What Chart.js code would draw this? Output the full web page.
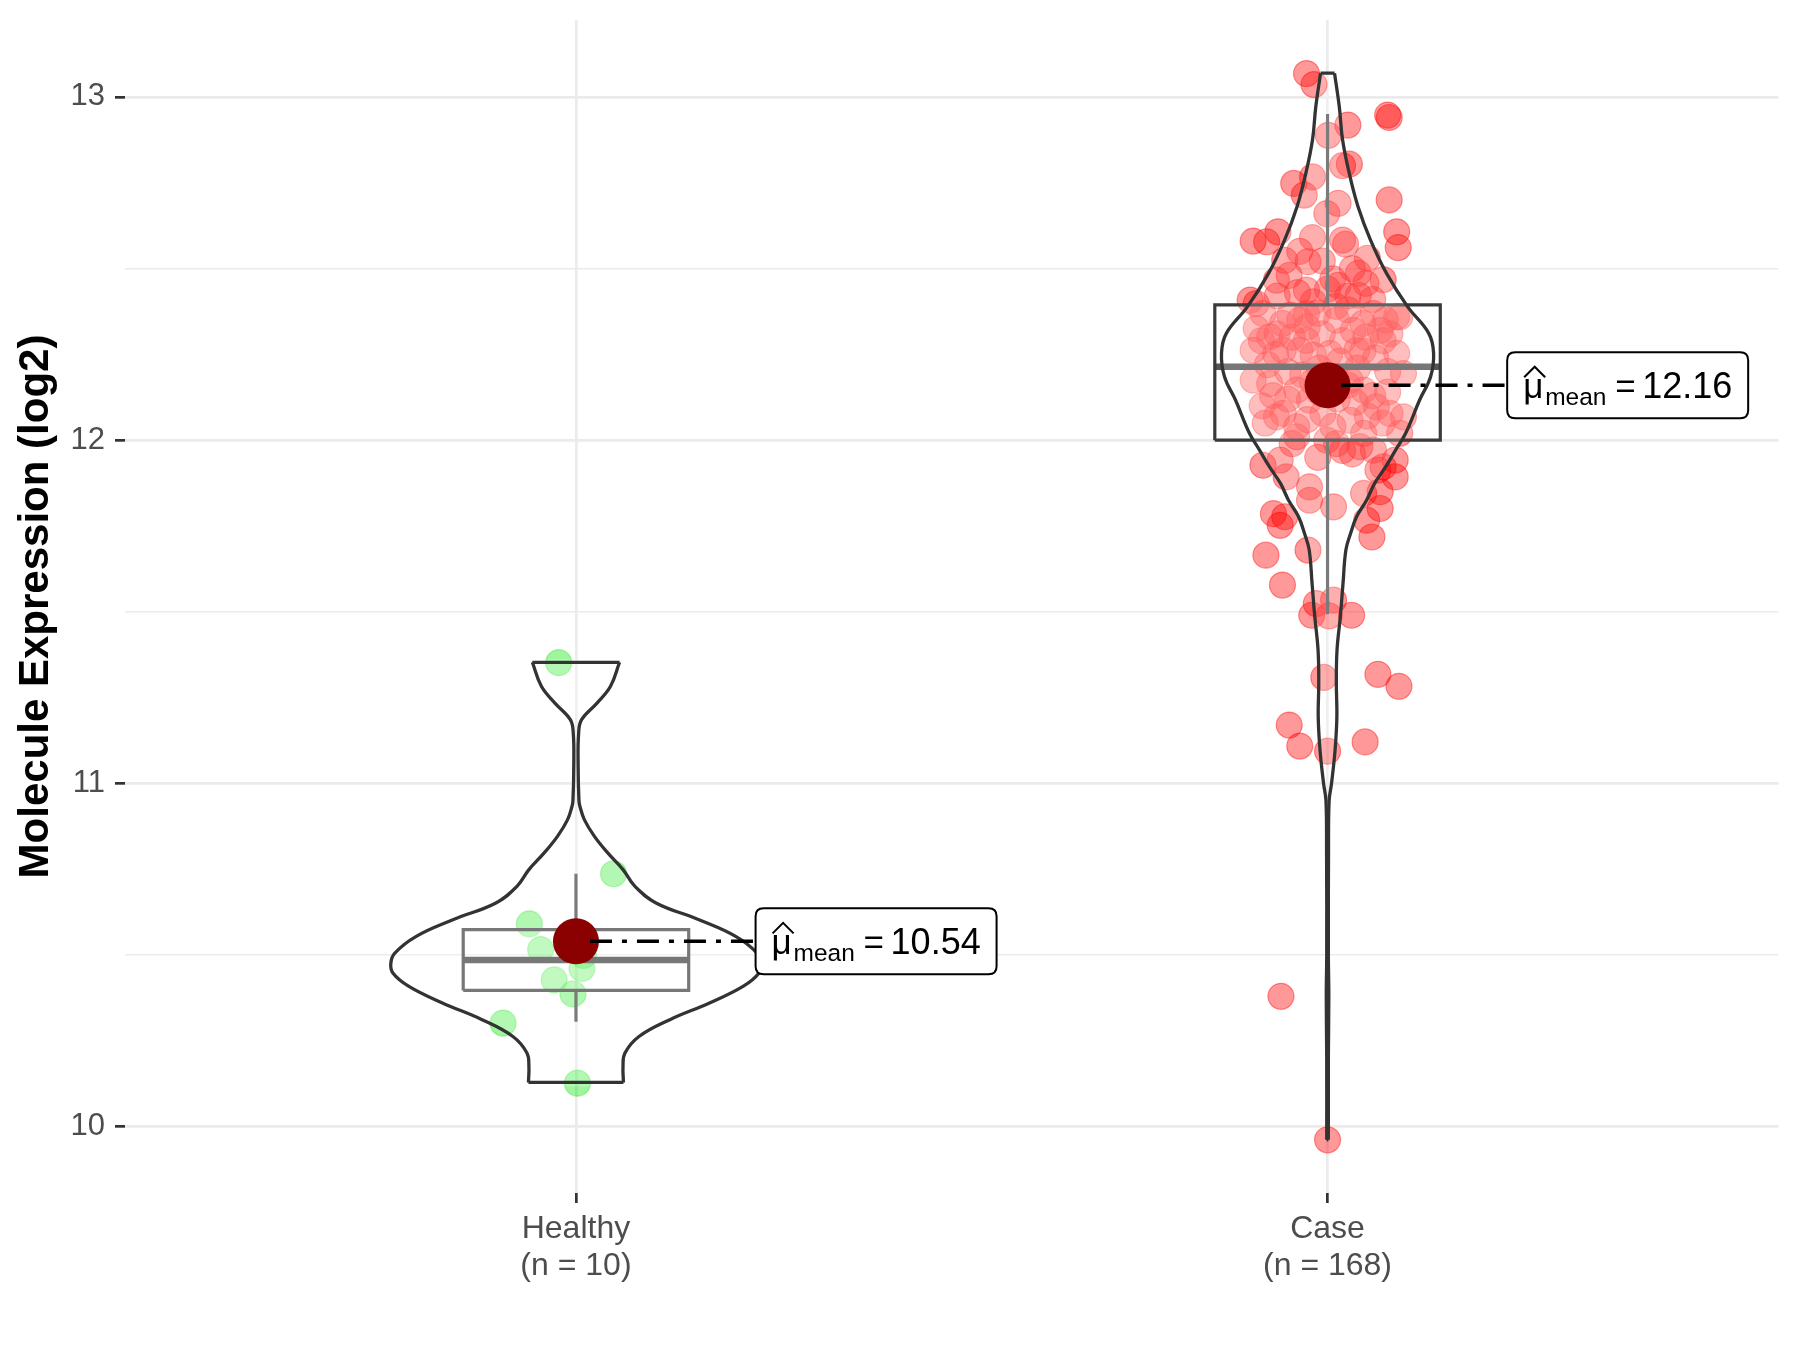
<!DOCTYPE html>
<html>
<head>
<meta charset="utf-8">
<script src="https://cdn.jsdelivr.net/npm/chart.js@4"></script>
<style>
html,body{margin:0;padding:0;background:#ffffff;}
#wrap{width:1800px;height:1350px;position:relative;}
</style>
</head>
<body>
<div id="wrap"><canvas id="c" width="1800" height="1350"></canvas></div>
<script>
// ---------------- DATA ----------------
const categories = ['Healthy', 'Case'];
const categoryCounts = [10, 168];
const categoryPositions = [1, 2];
const yTicks = [10, 10.5, 11, 11.5, 12, 12.5, 13];
const yAxisTitle = 'Molecule Expression (log2)';

const groupMeans = [10.54, 12.16];
const meanLabels = ['10.54', '12.16'];

// box statistics
const boxQ1 = [10.397, 12.0];
const boxMedian = [10.486, 12.214];
const boxQ3 = [10.574, 12.394];
const whiskerLow = [10.306, 11.493];
const whiskerHigh = [10.737, 12.95];

// Healthy points (value, horizontal jitter in category units)
const healthyValues = [11.352, 10.737, 10.591, 10.516, 10.461, 10.428, 10.387, 10.302, 10.127, 10.499];
const healthyJitter = [-0.023, 0.050, -0.062, -0.047, 0.008, -0.029, -0.004, -0.097, 0.002, 0.010];

// Case points
const caseValues = [
  13.068,13.036,12.947,12.94,12.918,12.888,12.80,12.804,12.748,12.767,12.714,12.69,12.66,12.70,12.607,12.561,12.58,12.578,12.607,12.59,12.583,12.571,12.524,12.52,12.522,12.466,12.437,12.451,12.486,12.457,12.468,12.422,12.403,12.398,12.359,
  12.408,12.369,12.364,12.369,12.35,12.32,12.369,12.32,12.36,12.325,12.301,12.262,12.262,12.262,12.248,12.253,12.262,12.29,12.253,12.194,12.175,12.165,12.146,12.117,12.175,12.146,12.097,12.078,12.068,12.078,12.039,12.078,12.058,12.02,12.02,12.0,12.01,12.068,12.156,12.291,
  11.927,11.942,11.893,11.864,11.806,11.825,11.786,11.777,11.752,11.68,11.665,11.578,11.942,11.922,11.893,11.913,11.845,11.85,11.801,11.767,11.718,11.99,11.981,11.971,
  11.524,11.534,11.49,11.488,11.49,11.309,11.318,11.283,11.17,11.109,11.094,11.121,
  10.38,9.962,
  12.22,12.20,12.19,12.21,12.23,12.21,12.24,12.20,
  12.29,12.31,12.30,12.31,12.29,12.30,12.31,
  12.34,12.35,12.37,12.38,12.34,12.35,
  12.13,12.12,12.14,12.12,12.11,12.13,12.14,
  12.05,12.06,12.04,12.07,12.05,
  11.99,11.97,11.96,11.95,
  12.43,12.44,12.42,12.41,12.42,
  12.48,12.47,12.50,12.55,12.53,
  12.17,12.18,12.16,12.25,12.26,12.33,12.39,12.10
];
const caseJitter = [
  -0.028,-0.018,0.080,0.082,0.027,0.001,0.020,0.029,-0.045,-0.020,-0.031,0.014,-0.001,0.082,0.092,0.094,-0.099,-0.081,-0.066,-0.020,0.020,0.024,-0.057,-0.026,-0.007,-0.068,-0.028,0.014,0.041,0.051,0.074,0.041,-0.019,-0.095,0.096,
  -0.103,-0.086,-0.050,-0.028,0.012,0.034,0.061,0.070,0.092,-0.095,-0.077,-0.099,-0.059,-0.037,-0.019,0.003,0.039,0.074,0.092,0.101,-0.099,-0.077,-0.041,-0.024,0.030,0.048,0.065,0.083,0.101,-0.059,-0.041,-0.006,0.030,0.048,0.096,-0.001,-0.041,-0.068,0.012,-0.028,
  -0.086,-0.063,-0.055,-0.024,0.008,-0.024,-0.072,-0.057,-0.063,-0.026,-0.082,-0.060,0.090,0.074,0.090,0.067,0.048,0.070,0.070,0.052,0.059,0.012,0.043,0.061,
  -0.015,0.008,-0.021,0.002,0.032,-0.005,0.067,0.095,-0.051,-0.037,0.000,0.050,
  -0.062,0.000,
  -0.080,-0.053,-0.033,-0.011,0.016,0.040,0.064,0.080,
  -0.088,-0.067,-0.047,-0.007,0.020,0.051,0.083,
  -0.060,-0.037,-0.013,0.027,0.047,0.077,
  -0.073,-0.053,-0.011,0.013,0.037,0.060,0.080,
  -0.083,-0.027,0.007,0.053,0.073,
  -0.047,0.020,0.033,-0.013,
  -0.040,0.000,0.027,0.060,-0.067,
  -0.051,0.007,0.033,-0.037,0.053,
  -0.020,0.007,0.027,-0.069,0.047,-0.027,0.011,-0.087
];

// Violin density profiles: y level and half-width (category units), top to bottom
const healthyViolinY = [11.353,11.283,11.234,11.186,11.147,11.05,10.95,10.933,10.894,10.846,10.797,10.749,10.70,10.652,10.603,10.554,10.506,10.477,10.448,10.409,10.36,10.312,10.263,10.215,10.176,10.129];
const healthyViolinW = [0.058,0.046,0.028,0.0075,0.0036,0.0029,0.004,0.0053,0.0113,0.0246,0.0426,0.0626,0.0785,0.1065,0.1637,0.213,0.241,0.2463,0.2436,0.2223,0.177,0.125,0.0839,0.0652,0.0626,0.0632];
const caseViolinY = [13.069,12.972,12.875,12.78,12.68,12.583,12.486,12.389,12.312,12.253,12.185,12.117,12.02,11.971,11.922,11.874,11.825,11.777,11.728,11.68,11.583,11.486,11.388,11.291,11.194,11.097,11.0,10.95,10.8,10.5,10.38,10.2,9.962];
const caseViolinW = [0.0093,0.0156,0.020,0.0286,0.0406,0.0572,0.0785,0.1065,0.1345,0.1411,0.1371,0.1225,0.1039,0.0905,0.0772,0.0626,0.0519,0.0386,0.0306,0.0244,0.0206,0.017,0.0126,0.0117,0.0124,0.010,0.0053,0.0021,0.0013,0.0011,0.0017,0.0011,0.0011];

// ---------------- BUILD ----------------
const FONT = "'Liberation Sans', Arial, Helvetica, sans-serif";
const BOX_HALF = 0.15;
const OUTLINE = '#333333';

function pts(vals, jit, c) { return vals.map((v, i) => ({x: c + jit[i], y: v})); }
function lineDs(data, color, width, order, tension) {
  return {type: 'line', data, showLine: true, borderColor: color, borderWidth: width,
    pointRadius: 0, pointHoverRadius: 0, fill: false, tension: tension || 0, order,
    borderCapStyle: 'butt', borderJoinStyle: 'miter'};
}
function shapeDs(data, bg, order, tension) {
  return {type: 'line', data, showLine: true, borderWidth: 0, borderColor: 'rgba(0,0,0,0)',
    backgroundColor: bg, fill: 'shape', pointRadius: 0, pointHoverRadius: 0,
    tension: tension || 0, order};
}
function noPad(s) { s.paddingTop = 0; s.paddingBottom = 0; s.paddingLeft = 0; s.paddingRight = 0; }

const datasets = [];
datasets.push({type: 'scatter', data: pts(healthyValues, healthyJitter, categoryPositions[0]),
  pointRadius: 13, pointHoverRadius: 13, backgroundColor: 'rgba(0,230,0,0.38)',
  borderColor: 'rgba(0,220,0,0.32)', borderWidth: 1.2, order: 20});
datasets.push({type: 'scatter', data: pts(caseValues, caseJitter, categoryPositions[1]),
  pointRadius: 13, pointHoverRadius: 13, backgroundColor: 'rgba(255,0,0,0.40)',
  borderColor: 'rgba(255,0,0,0.42)', borderWidth: 1.2, order: 19});

categoryPositions.forEach((c, i) => {
  const rect = [{x:c-BOX_HALF,y:boxQ1[i]},{x:c+BOX_HALF,y:boxQ1[i]},{x:c+BOX_HALF,y:boxQ3[i]},{x:c-BOX_HALF,y:boxQ3[i]},{x:c-BOX_HALF,y:boxQ1[i]}];
  datasets.push(shapeDs(rect, 'rgba(255,255,255,0.2)', 15));
  datasets.push(lineDs([{x:c,y:boxQ3[i]},{x:c,y:whiskerHigh[i]}], '#5a5a5a', 3.2, 14));
  datasets.push(lineDs([{x:c,y:boxQ1[i]},{x:c,y:whiskerLow[i]}], '#5a5a5a', 3.2, 14));
  datasets.push(lineDs(rect, i === 0 ? '#555555' : '#3a3a3a', 3.2, 13));
  datasets.push(lineDs([{x:c-BOX_HALF,y:boxMedian[i]},{x:c+BOX_HALF,y:boxMedian[i]}], '#555555', 6.5, 13));
});

[[healthyViolinY, healthyViolinW], [caseViolinY, caseViolinW]].forEach((vw, i) => {
  const c = categoryPositions[i];
  const ys = vw[0], ws = vw[1], n = ys.length;
  const right = ys.map((v, k) => ({x: c + ws[k], y: v}));
  const left = ys.map((v, k) => ({x: c - ws[k], y: v}));
  const poly = right.concat(left.slice().reverse()).concat([right[0]]);
  datasets.push(shapeDs(poly, 'rgba(255,255,255,0.2)', 12, 0.4));
  datasets.push(lineDs(right, OUTLINE, 3.3, 11, 0.4));
  datasets.push(lineDs(left, OUTLINE, 3.3, 11, 0.4));
  datasets.push(lineDs([left[0], right[0]], OUTLINE, 3.3, 11));
  datasets.push(lineDs([left[n-1], right[n-1]], OUTLINE, 3.3, 11));
});

datasets.push({type: 'scatter', data: groupMeans.map((m, i) => ({x: categoryPositions[i], y: m})),
  pointRadius: 23, pointHoverRadius: 23, backgroundColor: '#8B0000', borderWidth: 0, order: 1});

const meanLabelPlugin = {
  id: 'meanLabels',
  afterDatasetsDraw(chart) {
    const {ctx} = chart;
    const xs = chart.scales.x, ys = chart.scales.y;
    groupMeans.forEach((m, i) => {
      const c = categoryPositions[i];
      const cx = xs.getPixelForValue(c);
      const cy = ys.getPixelForValue(m);
      const bx = xs.getPixelForValue(c + 0.239);
      const bw = 241, bh = 66, r = 8;
      const by = cy - bh / 2;
      ctx.save();
      ctx.strokeStyle = '#000';
      ctx.lineWidth = 3.5;
      ctx.setLineDash([22, 10, 5, 10]);
      ctx.beginPath();
      ctx.moveTo(cx + 14, cy);
      ctx.lineTo(bx, cy);
      ctx.stroke();
      ctx.setLineDash([]);
      ctx.beginPath();
      ctx.moveTo(bx + r, by);
      ctx.lineTo(bx + bw - r, by);
      ctx.quadraticCurveTo(bx + bw, by, bx + bw, by + r);
      ctx.lineTo(bx + bw, by + bh - r);
      ctx.quadraticCurveTo(bx + bw, by + bh, bx + bw - r, by + bh);
      ctx.lineTo(bx + r, by + bh);
      ctx.quadraticCurveTo(bx, by + bh, bx, by + bh - r);
      ctx.lineTo(bx, by + r);
      ctx.quadraticCurveTo(bx, by, bx + r, by);
      ctx.closePath();
      ctx.fillStyle = '#ffffff';
      ctx.fill();
      ctx.lineWidth = 2;
      ctx.strokeStyle = '#000';
      ctx.stroke();
      ctx.fillStyle = '#000';
      ctx.textBaseline = 'alphabetic';
      ctx.textAlign = 'left';
      const base = cy + 12.7;
      ctx.font = '35px ' + FONT;
      ctx.fillText('\u03BC', bx + 16, base);
      ctx.lineWidth = 2;
      ctx.beginPath();
      ctx.moveTo(bx + 17, cy - 8);
      ctx.lineTo(bx + 27.5, cy - 18.5);
      ctx.lineTo(bx + 38, cy - 8);
      ctx.stroke();
      ctx.font = '24.5px ' + FONT;
      ctx.fillText('mean', bx + 38, cy + 19.5);
      ctx.font = '35px ' + FONT;
      ctx.fillText('=', bx + 108, base);
      ctx.font = '36px ' + FONT;
      ctx.fillText(meanLabels[i], bx + 135, base);
      ctx.restore();
    });
  }
};

new Chart(document.getElementById('c'), {
  type: 'scatter',
  data: {datasets},
  plugins: [meanLabelPlugin],
  options: {
    responsive: false,
    devicePixelRatio: 1,
    animation: false,
    events: [],
    layout: {autoPadding: false, padding: {top: 20, right: 21.5, bottom: 0, left: 0}},
    plugins: {legend: {display: false}, tooltip: {enabled: false}},
    scales: {
      x: {
        type: 'linear', min: 0.4, max: 2.6,
        afterBuildTicks: (s) => { s.ticks = categoryPositions.map(v => ({value: v})); },
        afterFit: (s) => { s.height = 157; noPad(s); },
        border: {display: false},
        grid: {color: '#EBEBEB', lineWidth: 2.7, drawTicks: true, tickLength: 10, tickColor: '#333333', tickWidth: 2.7},
        ticks: {
          padding: 8, maxRotation: 0, autoSkip: false, color: '#4D4D4D',
          font: {family: FONT, size: 32, lineHeight: 1.14},
          callback: (v) => { const i = categoryPositions.indexOf(v); return i < 0 ? '' : [categories[i], '(n = ' + categoryCounts[i] + ')']; }
        }
      },
      y: {
        type: 'linear', min: 9.807, max: 13.224,
        afterBuildTicks: (s) => { s.ticks = yTicks.map(v => ({value: v})); },
        afterFit: (s) => { s.width = 125; noPad(s); },
        border: {display: false},
        grid: {
          color: '#EBEBEB',
          lineWidth: (c) => Number.isInteger(c.tick.value) ? 2.7 : 1.4,
          drawTicks: true, tickLength: 10,
          tickColor: (c) => Number.isInteger(c.tick.value) ? '#333333' : 'rgba(0,0,0,0)',
          tickWidth: 2.7
        },
        ticks: {
          padding: 10, color: '#4D4D4D', autoSkip: false,
          font: {family: FONT, size: 31},
          callback: (v) => Number.isInteger(v) ? String(v) : ''
        },
        title: {display: true, text: yAxisTitle, color: '#000000',
          font: {family: FONT, size: 42, weight: 'bold'}, padding: {top: 11.5, bottom: 0}}
      }
    }
  }
});
</script>
</body>
</html>
